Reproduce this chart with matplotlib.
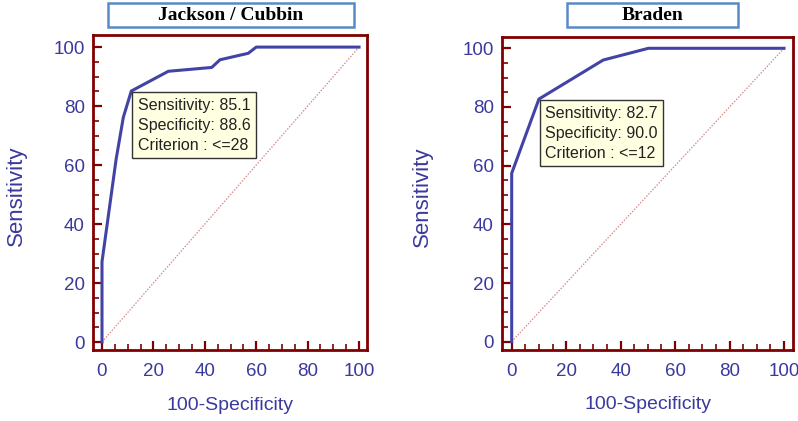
import matplotlib
matplotlib.use("Agg")
import matplotlib.pyplot as plt
from matplotlib.patches import Rectangle
from matplotlib.ticker import MultipleLocator

# ROC curve points (100-Specificity, Sensitivity)
jc_fpr = [0, 0, 5.5, 8.3, 11.4, 25.8, 42.7, 45.9, 56.9, 60.0, 100]
jc_tpr = [0, 27.2, 62.0, 76.2, 85.1, 91.8, 93.1, 95.7, 97.9, 100, 100]
jc_cut = {"sens": 85.1, "spec": 88.6, "crit": "<=28"}

br_fpr = [0, 0, 10.0, 33.6, 50.2, 100]
br_tpr = [0, 57.4, 82.7, 96.0, 100, 100]
br_cut = {"sens": 82.7, "spec": 90.0, "crit": "<=12"}

titles = ["Jackson / Cubbin", "Braden"]
ticks = [0, 20, 40, 60, 80, 100]

W, H = 798, 421
SPINE = "#800000"
LABEL = "#3a3a9e"
CURVE = "#4343a6"
DIAG = "#d48a8a"

plt.rcParams["font.family"] = ["Liberation Sans", "DejaVu Sans"]

fig = plt.figure(figsize=(W / 100, H / 100), dpi=100)


def px_axes(left, right, top, bottom):
    return fig.add_axes([left / W, (H - bottom) / H, (right - left) / W, (bottom - top) / H])


def draw_roc(ax, fpr, tpr, cut, xlim, ylim, ylab_x):
    ax.plot([0, 100], [0, 100], color=DIAG, lw=0.9, ls=(0, (1.2, 1.2)))
    ax.plot(fpr, tpr, color=CURVE, lw=2.2, solid_joinstyle="round")
    ax.set_xlim(*xlim)
    ax.set_ylim(*ylim)
    ax.set_xticks(ticks)
    ax.set_yticks(ticks)
    ax.xaxis.set_minor_locator(MultipleLocator(5))
    ax.yaxis.set_minor_locator(MultipleLocator(5))
    for s in ax.spines.values():
        s.set_color(SPINE)
        s.set_linewidth(2.0)
    ax.tick_params(which="major", direction="in", length=6.5, width=1.6, color=SPINE,
                   labelcolor=LABEL, labelsize=13.5)
    ax.tick_params(which="minor", direction="in", length=4.2, width=1.2, color=SPINE)
    ax.tick_params(axis="y", which="major", pad=6)
    ax.tick_params(axis="x", which="major", pad=9)
    ax.set_xlabel("100-Specificity", color=LABEL, fontsize=14)
    ax.set_ylabel("Sensitivity", color=LABEL, fontsize=16)
    ax.xaxis.set_label_coords(0.5, -0.148)
    ax.yaxis.set_label_coords(ylab_x, 0.49)
    txt = (f"Sensitivity: {cut['sens']:.1f}\n"
           f"Specificity: {cut['spec']:.1f}\n"
           f"Criterion : {cut['crit']}")
    ax.annotate(txt, xy=(100 - cut["spec"], cut["sens"]), xytext=(4.5, -5),
                textcoords="offset points", ha="left", va="top", fontsize=11.5,
                linespacing=1.4, color="#222222",
                bbox=dict(boxstyle="square,pad=0.35", fc="#ffffe1", ec="#333333", lw=1.0))


def title_box(left, right, top, bottom, text):
    fig.patches.append(Rectangle((left / W, (H - bottom) / H), (right - left) / W,
                                 (bottom - top) / H, transform=fig.transFigure,
                                 fc="white", ec="#5a8ac6", lw=1.8))
    fig.text((left + right) / 2 / W, (H - (top + bottom) / 2) / H, text,
             ha="center", va="center", fontsize=14, fontweight="bold",
             family=["Liberation Serif", "DejaVu Serif"])


ax1 = px_axes(93, 367, 35, 350)
draw_roc(ax1, jc_fpr, jc_tpr, jc_cut, (-3.5, 103.1), (-2.7, 104.1), -0.24)

ax2 = px_axes(502, 793, 37, 350)
draw_roc(ax2, br_fpr, br_tpr, br_cut, (-3.56, 103.3), (-2.83, 103.85), -0.237)

title_box(108, 354, 3, 27, titles[0])
title_box(567, 738, 3, 27, titles[1])

fig.savefig("out.png", dpi=100)
